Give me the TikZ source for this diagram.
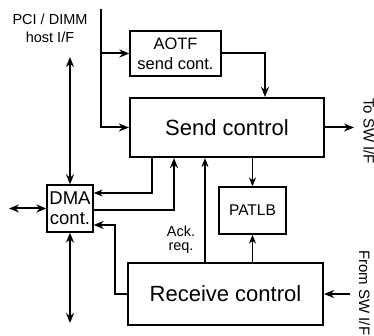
\documentclass[tikz,border=0pt]{standalone}
\usepackage{fontspec}
\setmainfont{Liberation Sans}
\usetikzlibrary{arrows.meta,calc}

\begin{document}
\begin{tikzpicture}[x=1pt,y=-1pt,
  heavy/.style={line width=2pt},
  light/.style={line width=1.2pt},
  tip/.style={-{Stealth[length=10pt,width=8pt]}},
  smalltip/.style={-{Stealth[length=9pt,width=7pt]}},
  bothtips/.style={{Stealth[length=10pt,width=8pt]}-{Stealth[length=10pt,width=8pt]}},
  bigbox/.style={draw,line width=2.2pt,inner sep=0pt,font=\fontsize{22}{26}\selectfont},
  smallbox/.style={draw,line width=1.3pt,inner sep=0pt,align=center},
  lbl/.style={inner sep=0pt,align=center,font=\fontsize{14.5}{18}\selectfont}
]
\useasboundingbox (0,0) rectangle (374,336);

% blocks
\node[smallbox,minimum width=91pt,minimum height=45pt,font=\fontsize{16.5}{20}\selectfont]
  (aotf) at (175.5,53.5) {AOTF\\send cont.};
\node[bigbox,minimum width=194pt,minimum height=59pt] (send) at (227,127.5) {Send control};
\node[bigbox,minimum width=195pt,minimum height=62pt] (recv) at (225.5,294) {Receive control};
\node[smallbox,minimum width=67pt,minimum height=47pt,font=\fontsize{15.5}{19}\selectfont]
  (patlb) at (252.5,210.5) {PATLB};
\node[smallbox,minimum width=46pt,minimum height=47pt,font=\fontsize{18.5}{20}\selectfont]
  (dma) at (70,208.5) {DMA\\cont.};

% labels
\node[lbl] (host) at (50,28) {PCI / DIMM\\host I/F};
\node[lbl,font=\fontsize{14.5}{14.5}\selectfont] (ack) at (181,240) {Ack.\\req.};
\node[lbl,font=\fontsize{15}{18}\selectfont,rotate=-90] (toSW) at (369,131) {To SW I/F};
\node[lbl,font=\fontsize{15}{18}\selectfont,rotate=-90,anchor=west] (fromSW) at (364.5,250) {From SW I/F};

% free ends and bend points
\coordinate (hosttop) at (101,9);
\coordinate (swout) at (354,127.5);
\coordinate (swin) at (350,294);
\coordinate (dmaup) at (70,57);
\coordinate (dmadown) at (70,323);
\coordinate (dmaleft) at (9,208.5);
\coordinate (bendA) at (265,0);
\coordinate (ackx) at (205,0);
\coordinate (c1) at (152,193);
\coordinate (c2) at (174,210);
\coordinate (c3) at (115,225);

% host interface feeds
\draw[heavy,tip] (hosttop) |- (aotf.west);
\draw[heavy,tip] (hosttop) |- (send.west);
\draw[heavy,tip] (aotf.east) -| (send.north -| bendA);

% switch interface
\draw[heavy,tip] (send.east) -- (swout);
\draw[heavy,tip] (swin) -- (recv.east);

% PATLB and acknowledge paths
\draw[light,smalltip] (send.south -| patlb.north) -- (patlb.north);
\draw[light,smalltip] (recv.north -| patlb.south) -- (patlb.south);
\draw[light,smalltip] (recv.north -| ackx) -- (send.south -| ackx);

% DMA controller links
\draw[heavy,bothtips] (dmaup) -- (dma.north);
\draw[heavy,bothtips] (dma.south) -- (dmadown);
\draw[heavy,bothtips] (dmaleft) -- (dma.west);
\draw[light,smalltip] (send.south -| c1) |- (dma.east |- c1);
\draw[heavy,tip] (dma.east |- c2) -| (send.south -| c2);
\draw[heavy,tip] (recv.west) -| (c3) -- (dma.east |- c3);
\end{tikzpicture}
\end{document}
